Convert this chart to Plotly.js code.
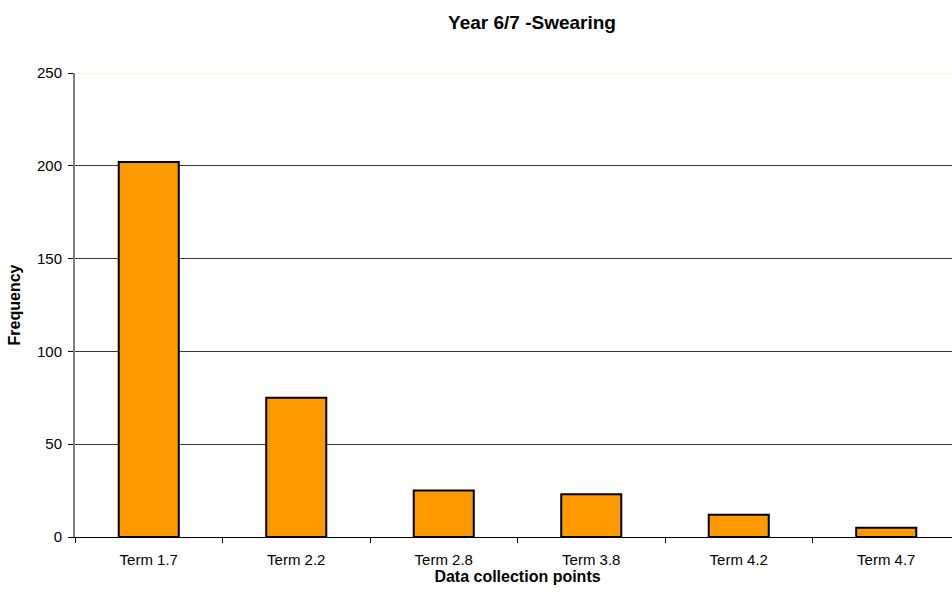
<!DOCTYPE html>
<html>
<head>
<meta charset="utf-8">
<script src="https://cdn.plot.ly/plotly-3.0.1.min.js"></script>
<style>
  html, body { margin: 0; padding: 0; background: #ffffff; overflow: hidden; }
  #chart { width: 975px; height: 595px; }
</style>
</head>
<body>
<div id="chart"></div>
<script>
// Swearing incidents recorded at each data collection point
const categories = ["Term 1.7", "Term 2.2", "Term 2.8", "Term 3.8", "Term 4.2", "Term 4.7"];
const frequency = [202, 75, 25, 23, 12, 5];
const yTickValues = [0, 50, 100, 150, 200, 250];

const FONT = "Liberation Sans, Arial, sans-serif";

const trace = {
  type: "bar",
  x: categories,
  y: frequency,
  marker: {
    color: "#FF9900",
    line: { color: "#000000", width: 2 }
  },
  hoverinfo: "x+y"
};

const layout = {
  width: 975,
  height: 595,
  margin: { l: 75, r: 15, t: 73, b: 58 },
  paper_bgcolor: "#ffffff",
  plot_bgcolor: "#ffffff",
  showlegend: false,
  bargap: 0.593,
  font: { family: FONT, color: "#000000", size: 15 },
  title: {
    text: "<b>Year 6/7 -Swearing</b>",
    font: { family: FONT, size: 19, color: "#000000" },
    x: 532 / 975,
    xref: "container",
    xanchor: "center",
    y: 1 - 22 / 595,
    yref: "container",
    yanchor: "middle"
  },
  xaxis: {
    type: "category",
    tickson: "boundaries",
    ticks: "outside",
    ticklen: 5,
    tickcolor: "#000000",
    ticklabelstandoff: 9,
    showline: true,
    linecolor: "#000000",
    linewidth: 1,
    showgrid: false,
    tickfont: { family: FONT, size: 15, color: "#000000" },
    title: {
      text: "<b>Data collection points</b>",
      font: { family: FONT, size: 16, color: "#000000" },
      standoff: 2
    },
    fixedrange: true
  },
  yaxis: {
    range: [0, 250],
    tickvals: yTickValues,
    ticks: "outside",
    ticklen: 5,
    tickcolor: "#000000",
    ticklabelstandoff: 3,
    showline: true,
    linecolor: "#808080",
    linewidth: 2,
    showgrid: true,
    gridcolor: "#3a3a3a",
    gridwidth: 1,
    zeroline: false,
    tickfont: { family: FONT, size: 15, color: "#000000" },
    title: {
      text: "<b>Frequency</b>",
      font: { family: FONT, size: 16, color: "#000000" },
      standoff: 12
    },
    fixedrange: true
  },
  shapes: [
    {
      // pale upper border of the plotting area
      type: "line",
      xref: "paper", yref: "y",
      x0: 0, x1: 1, y0: 250, y1: 250,
      line: { color: "#fbf7d8", width: 2 },
      layer: "above"
    }
  ]
};

Plotly.newPlot("chart", [trace], layout, { displayModeBar: false, staticPlot: true });
</script>
</body>
</html>
